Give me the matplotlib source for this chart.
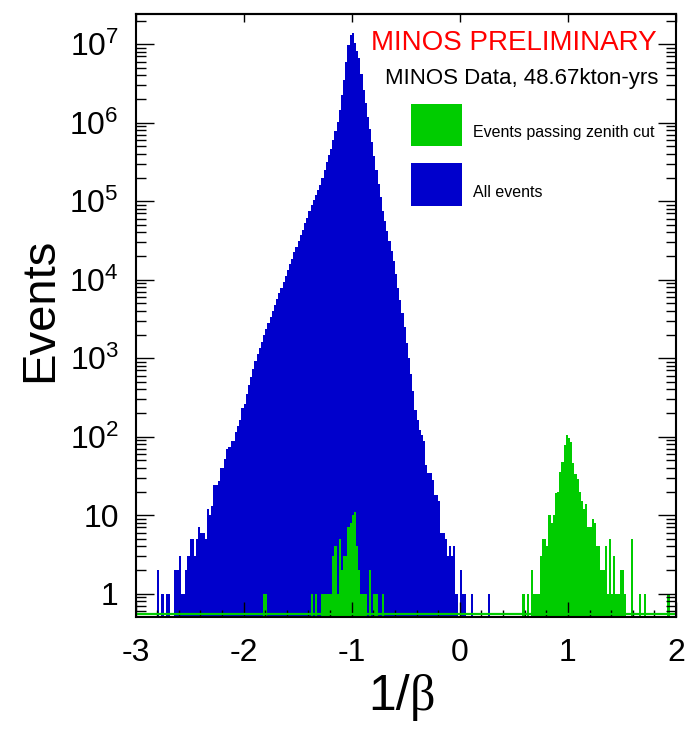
import numpy as np
import matplotlib
matplotlib.use("Agg")
import matplotlib.pyplot as plt
from matplotlib.patches import Rectangle
from matplotlib.ticker import FixedLocator, LogLocator, MultipleLocator, NullFormatter

plt.rcParams['font.family'] = ['Liberation Sans', 'DejaVu Sans']
plt.rcParams['mathtext.fontset'] = 'custom'
plt.rcParams['mathtext.rm'] = 'Liberation Sans'

# binning of the histograms: 250 bins of width 0.02
x_lo, x_hi, n_bins = -3.0, 2.0, 250

# "All events", counts from bin 10 (1/beta = -2.80) onwards
blue_first = 10
blue_counts = [
    2, 0, 1, 0, 1, 1, 0, 0, 2, 2,
    3, 1, 1, 2, 3, 5, 5, 3, 5, 7,
    6, 6, 5, 12, 10, 13, 24, 24, 27, 40,
    40, 52, 70, 73, 88, 88, 115, 135, 163, 231,
    262, 355, 457, 575, 724, 912, 1120, 1350, 1620, 1950,
    2340, 2820, 3390, 3980, 4790, 5620, 6760, 7940, 9330, 11200,
    13200, 15800, 18600, 22400, 26300, 31600, 37200, 43600, 52500, 61700,
    74100, 89100, 105000, 120000, 138000, 162000, 195000, 251000, 316000, 389000,
    468000, 603000, 776000, 1020000, 1450000, 2240000, 3470000, 6030000, 9770000, 13200000,
    14100000, 10500000, 8320000, 6610000, 4170000, 2630000, 1780000, 1200000, 832000, 562000,
    380000, 251000, 166000, 112000, 75900, 56200, 41700, 31600, 23400, 17400,
    11700, 7940, 5500, 3720, 2510, 1580, 1000, 631, 380, 219,
    164, 122, 105, 88, 44, 34, 34, 28, 18, 18,
    15, 6, 6, 5, 3, 4, 3, 4, 1, 0,
    2, 1, 1, 0, 0, 1, 0, 0, 0, 0,
    0, 0, 0, 1,
]

# "Events passing zenith cut", three groups of non-empty bins
green_first_a = 59
green_counts_a = [1, 1]

green_first_b = 81
green_counts_b = [
    1, 0, 1, 0, 0, 1, 1, 1, 1, 1,
    3, 4, 1, 5, 2, 3, 3, 7, 8, 10,
    11, 4, 2, 1, 1, 1, 0, 2, 0, 1,
    1, 0, 0, 1,
]

green_first_c = 179
green_counts_c = [
    1, 0, 1, 0, 2, 1, 1, 1, 3, 5,
    5, 4, 10, 8, 10, 19, 20, 35, 47, 78,
    105, 95, 85, 46, 33, 29, 20, 15, 12, 14,
    7, 7, 9, 8, 4, 4, 2, 2, 4, 1,
    5, 1, 3, 1, 1, 2, 2, 1, 0, 0,
    5, 0, 0, 0, 1, 0, 1, 0, 0, 0,
    0, 0, 0, 0, 0, 0, 0, 1,
]

x_ticks = [-3, -2, -1, 0, 1, 2]
y_ticks = [1, 10, 1e2, 1e3, 1e4, 1e5, 1e6, 1e7]
y_tick_labels = ['1', '10'] + [r'$\mathregular{10^{%d}}$' % k for k in range(2, 8)]

blue_col = '#0000cc'
green_col = '#00cc00'

edges = np.linspace(x_lo, x_hi, n_bins + 1)
blue = np.zeros(n_bins)
blue[blue_first:blue_first + len(blue_counts)] = blue_counts
green = np.zeros(n_bins)
for first, counts in [(green_first_a, green_counts_a),
                      (green_first_b, green_counts_b),
                      (green_first_c, green_counts_c)]:
    green[first:first + len(counts)] = counts

floor = 1e-3


def fill_hist(ax, vals, color):
    # one step-shaped polygon per histogram, empty bins fall below the axis
    xs = np.repeat(edges, 2)[1:-1]
    ys = np.repeat(np.where(vals > 0, vals, floor), 2)
    ax.fill_between(xs, ys, floor, color=color, lw=0, antialiased=False)


fig = plt.figure(figsize=(6.87, 7.34), dpi=100)
ax = fig.add_axes([135.5 / 687, 1 - 616.7 / 734, 540.5 / 687, 602.7 / 734])
ax.set_yscale('log')

fill_hist(ax, blue, blue_col)
fill_hist(ax, green, green_col)
# empty bins of the green histogram sit on the bottom edge
ax.plot([x_lo, x_hi], [0.004, 0.004], color=green_col, lw=1.6,
        transform=ax.get_xaxis_transform())

ax.set_xlim(x_lo, x_hi)
ax.set_ylim(0.509, 2.43e7)

ax.xaxis.set_major_locator(FixedLocator(x_ticks))
ax.xaxis.set_minor_locator(MultipleLocator(0.2))
ax.set_xticklabels([str(t) for t in x_ticks])
ax.yaxis.set_major_locator(FixedLocator(y_ticks))
ax.yaxis.set_minor_locator(LogLocator(base=10, subs=np.arange(2, 10)))
ax.yaxis.set_minor_formatter(NullFormatter())
ax.set_yticklabels(y_tick_labels)

ax.tick_params(axis='x', which='both', direction='in', top=False, bottom=True,
               labelsize=23, pad=15, width=1.0)
ax.tick_params(axis='x', which='major', length=10.8)
ax.tick_params(axis='x', which='minor', length=4.8)
ax.tick_params(axis='y', which='both', direction='in', left=True, right=True,
               labelsize=23, pad=12, width=1.0)
ax.tick_params(axis='y', which='major', length=13)
ax.tick_params(axis='y', which='minor', length=7)
top = ax.secondary_xaxis('top')
top.xaxis.set_major_locator(FixedLocator(x_ticks))
top.tick_params(direction='in', length=6, width=1.0, labeltop=False)
top.spines['top'].set_linewidth(1.5)

for s in ax.spines.values():
    s.set_linewidth(1.5)
    s.set_zorder(5)

# axis titles
fig.text(40 / 687, 1 - 310 / 734, 'Events', rotation=90, fontsize=34,
         ha='center', va='center')
fig.text(410 / 687, 1 - 710 / 734, '1/', fontsize=36, ha='right', va='baseline')
fig.text(410 / 687, 1 - 710 / 734, 'β', fontsize=36, ha='left', va='baseline',
         family=['Liberation Serif', 'DejaVu Serif'])

# annotations
fig.text(657 / 687, 1 - 50 / 734, 'MINOS PRELIMINARY', color='#ff0000',
         fontsize=20, ha='right', va='baseline')
fig.text(658 / 687, 1 - 84 / 734, 'MINOS Data, 48.67kton-yrs', color='black',
         fontsize=16, ha='right', va='baseline')

# legend
for y0, y1, col, label, base in [(104, 145.7, green_col, 'Events passing zenith cut', 137.3),
                                 (163.3, 205.7, blue_col, 'All events', 196.7)]:
    fig.patches.append(Rectangle((411 / 687, 1 - y1 / 734), 51 / 687, (y1 - y0) / 734,
                                 transform=fig.transFigure, facecolor=col,
                                 edgecolor='none'))
    fig.text(472.7 / 687, 1 - base / 734, label, fontsize=11.5, ha='left',
             va='baseline')

fig.savefig('out.png', dpi=100)
